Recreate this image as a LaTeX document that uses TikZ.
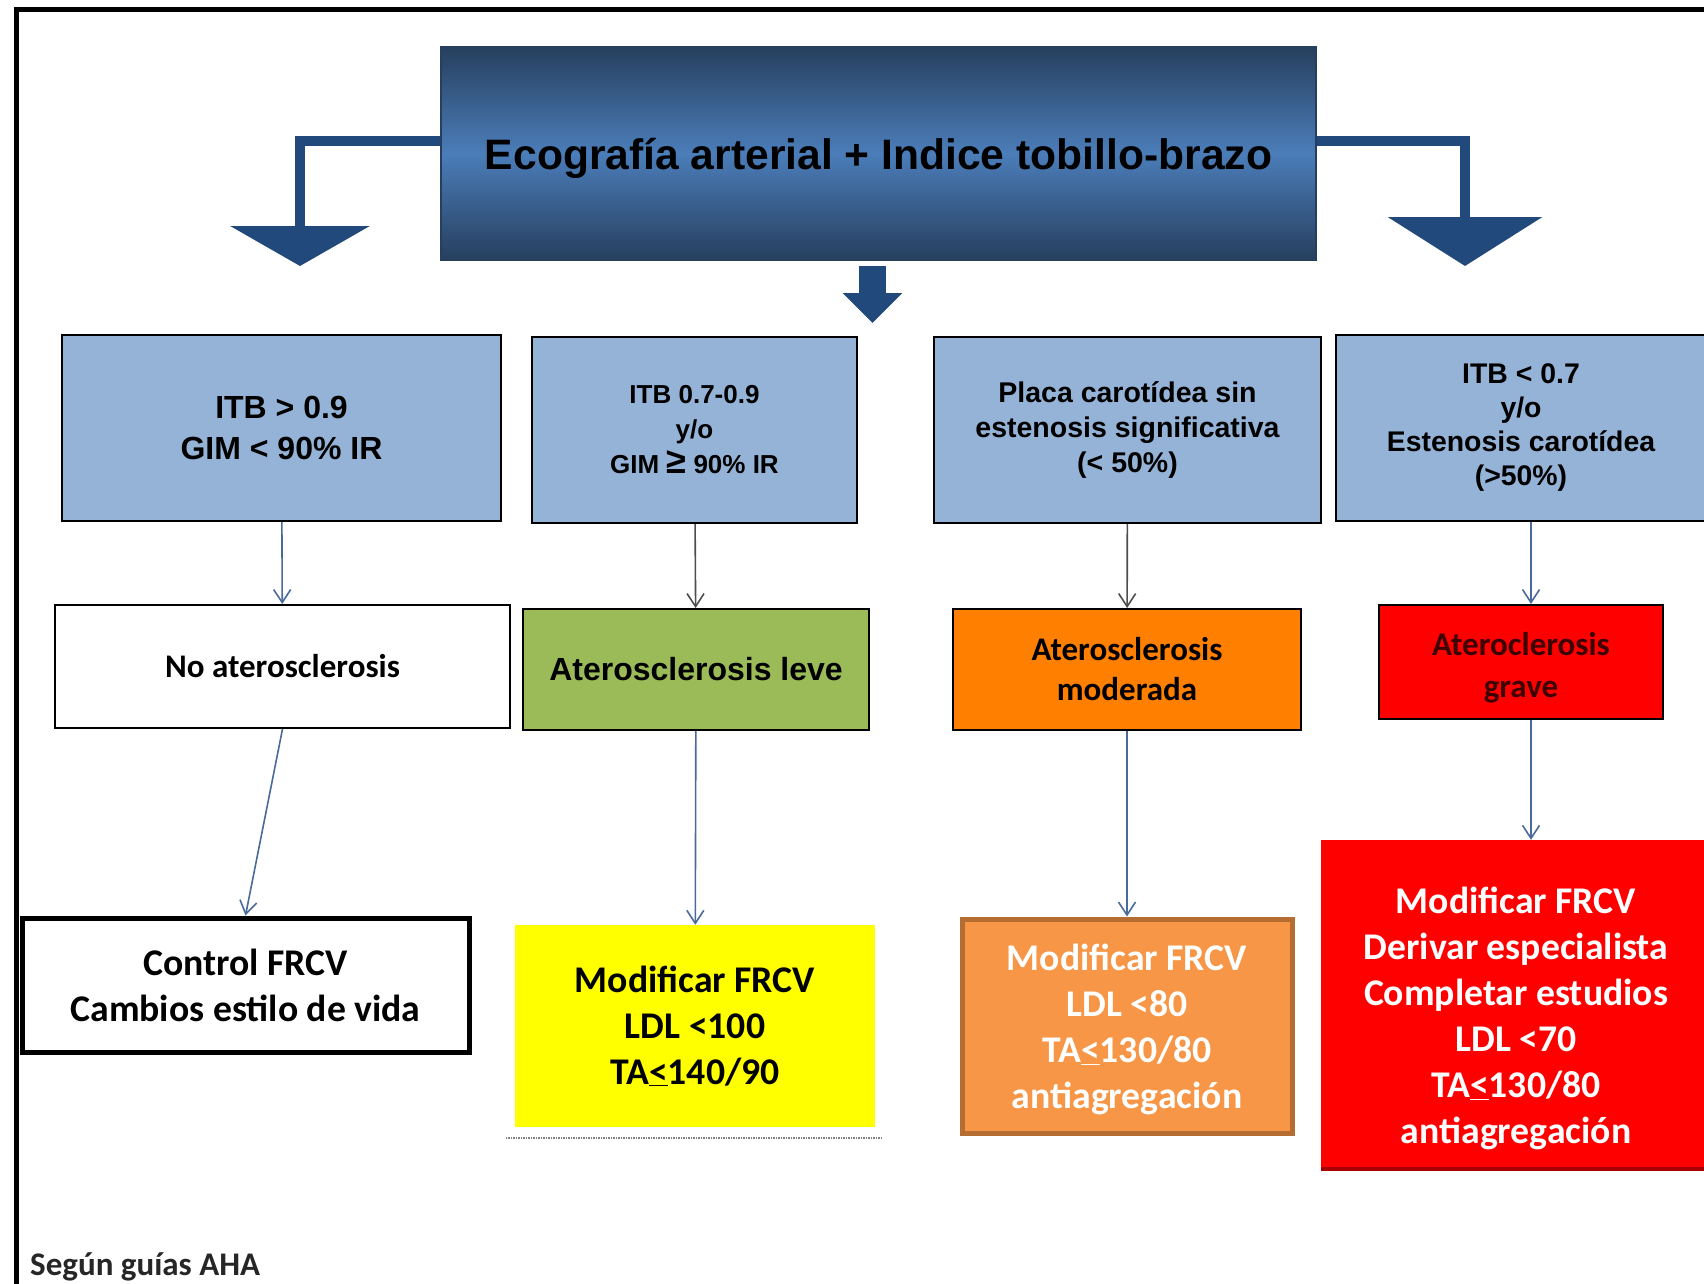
\documentclass[tikz,border=0pt]{standalone}
\usepackage{fontspec}
\setmainfont{Liberation Sans}
\newfontfamily\calibri{Carlito}
\usetikzlibrary{arrows.meta}

\definecolor{titledark}{HTML}{263F5E}
\definecolor{titlelight}{HTML}{4B7DB9}
\definecolor{arrowblue}{HTML}{21497C}
\definecolor{critblue}{HTML}{95B3D7}
\definecolor{leafgreen}{HTML}{9BBB59}
\definecolor{modorange}{HTML}{FF8000}
\definecolor{sevred}{HTML}{FF0000}
\definecolor{gravetext}{HTML}{3C0000}
\definecolor{treatyellow}{HTML}{FFFF00}
\definecolor{treatorange}{HTML}{F79646}
\definecolor{treatedge}{HTML}{B66D31}
\definecolor{connblue}{HTML}{4A6A9A}
\definecolor{conngray}{HTML}{4D4D4D}

\begin{document}
\begin{tikzpicture}[x=1pt, y=-1pt,
    box/.style={draw=black, line width=2pt, inner sep=0pt, align=center},
    crit/.style={box, fill=critblue, minimum height=186pt},
    result/.style={box, minimum height=121pt},
    treat/.style={inner sep=0pt, align=center, font=\calibri\fontsize{37.7}{46}\selectfont\bfseries},
    conn/.style={line width=1.6pt, draw=connblue, -{Straight Barb[length=13pt,width=17pt]}},
    bigarrow/.style={draw=arrowblue, line width=10pt}]

    \useasboundingbox (0,0) rectangle (1704,1284);
    \clip (0,0) rectangle (1704,1284);

    % Frame
    \draw[line width=5pt] (16,1290) -- (16,10) -- (1710,10);

    % Title
    \node[draw=titledark, line width=1.5pt, top color=titledark, bottom color=titledark,
          middle color=titlelight, minimum width=875pt, minimum height=213pt, inner sep=0pt,
          text depth=0pt, font=\fontsize{42.6}{50}\selectfont\bfseries] (title) at (878.5,153.5)
          {Ecografía arterial + Indice tobillo-brazo};

    \coordinate (lefttip) at (300,266);
    \coordinate (righttip) at (1465,266);
    \coordinate (midtip) at (872.5,323);
    \draw[bigarrow, -{Triangle[width=138pt,length=40pt]}] ([yshift=12.5pt]title.west) -| (lefttip);
    \draw[bigarrow, -{Triangle[width=153pt,length=49pt]}] ([yshift=12.5pt]title.east) -| (righttip);
    \draw[bigarrow, line width=27pt, -{Triangle[width=58pt,length=30pt]}]
        ([xshift=-6pt,yshift=-5pt]title.south) -- (midtip);

    % Criteria
    \node[crit, minimum width=439pt, font=\fontsize{32}{41}\selectfont\bfseries] (itbnorm)
        at (281.5,428) {ITB > 0.9\\GIM < 90\% IR};
    \node[crit, minimum width=325pt, font=\fontsize{26}{35}\selectfont\bfseries] (itbmid)
        at (694.5,430) {ITB 0.7-0.9\\y/o\\GIM {\fontsize{36}{35}\selectfont ≥} 90\% IR};
    \node[crit, minimum width=387pt, font=\fontsize{28.5}{35}\selectfont\bfseries] (placa)
        at (1127.5,430) {Placa carotídea sin\\estenosis significativa\\(< 50\%)};
    \node[crit, minimum width=370pt, font=\fontsize{28.4}{34}\selectfont\bfseries] (itblow)
        at (1521,428) {ITB < 0.7\\y/o\\Estenosis carotídea\\(>50\%)};

    % Degree of atherosclerosis
    \node[result, fill=white, minimum width=455pt, minimum height=123pt,
          font=\calibri\fontsize{33}{40}\selectfont\bfseries] (noath) at (282.5,666.5) {No aterosclerosis};
    \node[result, fill=leafgreen, minimum width=346pt,
          font=\fontsize{32}{40}\selectfont\bfseries] (leve) at (696,669.5) {Aterosclerosis leve};
    \node[result, fill=modorange, minimum width=348pt,
          font=\calibri\fontsize{33}{40}\selectfont\bfseries] (moderada) at (1127,669.5) {Aterosclerosis\\moderada};
    \node[result, fill=sevred, minimum width=284pt, minimum height=114pt, text=gravetext,
          font=\calibri\fontsize{33}{42}\selectfont\bfseries] (grave) at (1521,662) {\rule{0pt}{34pt}Ateroclerosis\\grave};

    % Treatment
    \node[treat, draw=black, line width=5pt, fill=white, minimum width=447pt, minimum height=134pt]
        (control) at (245.5,985) {Control FRCV\\Cambios estilo de vida};
    \node[treat, fill=treatyellow, minimum width=360pt, minimum height=202pt]
        (modlow) at (695,1026) {Modificar FRCV\\LDL <100\\TA\underline{<}140/90};
    \draw[gray, line width=1.5pt, densely dotted]
        ([xshift=-9pt,yshift=-11pt]modlow.south west) -- ([xshift=8pt,yshift=-11pt]modlow.south east);
    \node[treat, fill=treatorange, draw=treatedge, line width=5pt, text=white,
          minimum width=330pt, minimum height=214pt] (modmid) at (1127,1026)
        {\rule{0pt}{34pt}Modificar FRCV\\LDL <80\\TA\underline{<}130/80\\antiagregación};
    \node[treat, fill=sevred, text=white, minimum width=390pt, minimum height=331pt]
        (modhigh) at (1516,1005.5)
        {\rule{0pt}{52pt}Modificar FRCV\\Derivar especialista\\Completar estudios\\LDL <70\\TA\underline{<}130/80\\antiagregación};
    \draw[line width=4pt, red!65!black] ([yshift=2pt]modhigh.south west) -- ([yshift=2pt]modhigh.south east);

    % Connectors
    \draw[conn] (itbnorm) -- (noath);
    \draw[conn, draw=conngray] (itbmid) -- (leve);
    \draw[conn, draw=conngray] (placa) -- (moderada);
    \draw[conn] ([xshift=10pt]itblow.south) -- ([xshift=10pt]grave.north);
    \draw[conn] (noath.south) -- (control.north);
    \draw[conn] (leve) -- (modlow);
    \draw[conn] (moderada) -- (modmid);
    \draw[conn] ([xshift=10pt]grave.south) -- ([xshift=10pt]grave.south |- modhigh.north);

    \node[anchor=base west, inner sep=0pt, text=black!85,
          font=\calibri\fontsize{33}{40}\selectfont\bfseries] (source) at (30,1275) {Según guías AHA};
\end{tikzpicture}
\end{document}
